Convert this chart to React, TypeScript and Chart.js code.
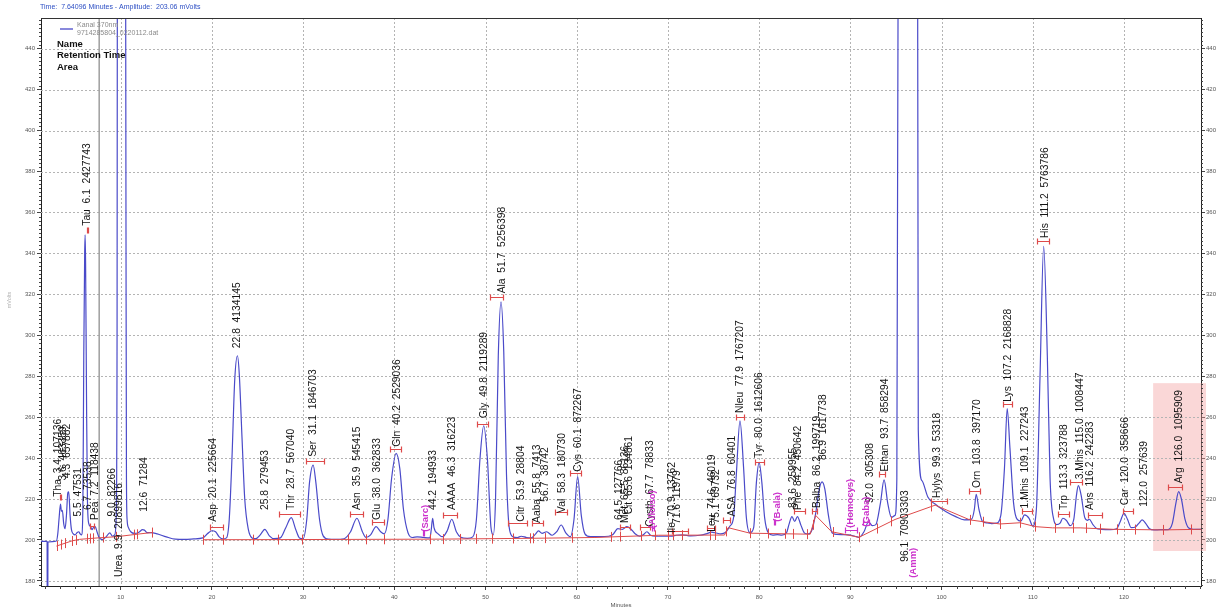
import React, { useEffect, useRef } from "react";
import { Chart, registerables } from "chart.js";

Chart.register(...registerables);

const FONT = '"Liberation Sans", Arial, Helvetica, sans-serif';

// Axis ranges: retention time in minutes, detector signal in mV
const timeRange: [number, number] = [1.26, 128.45];
const mvRange: [number, number] = [177.5, 455];
const xTickValues = [10, 20, 30, 40, 50, 60, 70, 80, 90, 100, 110, 120];
const yTickValues = [180, 200, 220, 240, 260, 280, 300, 320, 340, 360, 380, 400, 420, 440];
const cursorTime = 7.64;
const headerText = "Time:  7.64096 Minutes - Amplitude:  203.06 mVolts";
const channelName = "Kanal 370nm";
const fileName = "9714285804_0220112.dat";
const legendLines = ["Name", "Retention Time", "Area"];

// Highlighted window (minutes, mV)
const shadeTimes: [number, number] = [123.2, 129.0];
const shadeLevels: [number, number] = [194.6, 276.6];

// Detector trace [minutes, mV]
const trace: [number, number][] = [
  [1.26, 199.3], [1.9, 199.3], [1.93, 199], [1.95, 150], [2.0, 150], [2.02, 199], [2.5, 199.2], [2.95, 199.5],
  [3.1, 203], [3.25, 211], [3.4, 217.5], [3.5, 214], [3.6, 214.5], [3.75, 208], [3.9, 205.5], [4.05, 212],
  [4.2, 223], [4.3, 223.5], [4.45, 212], [4.6, 205], [4.8, 203], [5.0, 202.5], [5.2, 203.5], [5.4, 204],
  [5.55, 203], [5.7, 202.5], [5.85, 215], [5.95, 290], [6.05, 340], [6.1, 349], [6.15, 335], [6.25, 270],
  [6.35, 220], [6.5, 208], [6.7, 206.5], [6.85, 205], [7.0, 206], [7.2, 206.5], [7.4, 204], [7.6, 201.5],
  [7.8, 200.5], [8.0, 200.2], [8.4, 201.5], [8.8, 203.5], [9.1, 201.8], [9.35, 202.5], [9.5, 210], [9.6, 300],
  [9.65, 600], [9.9, 2000], [10.5, 600], [10.58, 350], [10.63, 230], [10.7, 210], [10.85, 206], [11.1, 204],
  [11.5, 203.2], [12.0, 203.8], [12.4, 205], [12.6, 204.8], [12.9, 203.6], [13.3, 203.6], [14.0, 203], [15.0, 201.5],
  [16.0, 200.4], [17.0, 200.3], [18.0, 200.5], [19.0, 201], [19.5, 203], [20.0, 204.5], [20.4, 204], [20.8, 201.5],
  [21.2, 200.5], [21.6, 201], [21.9, 210], [22.2, 240], [22.5, 278], [22.8, 290], [23.0, 281], [23.3, 250],
  [23.6, 220], [24.0, 205], [24.4, 201], [24.8, 200.6], [25.3, 202.5], [25.8, 205.2], [26.3, 202], [26.8, 200.6],
  [27.5, 201], [28.1, 206], [28.7, 210.9], [29.2, 205], [29.6, 201], [30.0, 200.6], [30.4, 210], [30.7, 228],
  [31.1, 236.6], [31.4, 228], [31.8, 210], [32.2, 202], [32.8, 200.4], [33.5, 200.3], [34.5, 200.6], [35.2, 204],
  [35.9, 210.6], [36.5, 204], [36.9, 201.2], [37.4, 202.5], [38.0, 206.5], [38.5, 204], [38.9, 203], [39.3, 210],
  [39.7, 230], [40.2, 242.3], [40.6, 235], [41.0, 215], [41.5, 203.5], [42.0, 201.2], [42.5, 201.5], [43.2, 201.2],
  [43.9, 201], [44.05, 205], [44.2, 210.6], [44.35, 206], [44.8, 203], [45.3, 201.6], [45.8, 204.5], [46.3, 210.1],
  [46.8, 204], [47.3, 201.3], [48.0, 200.8], [48.6, 201.5], [49.0, 210], [49.4, 240], [49.8, 255.8], [50.2, 240],
  [50.6, 206], [50.85, 202.5], [51.1, 220], [51.4, 290], [51.7, 316.3], [52.0, 292], [52.3, 232], [52.6, 206],
  [53.0, 201.6], [53.5, 201.2], [53.9, 201.8], [54.5, 201.2], [55.0, 201], [55.5, 203], [55.8, 204.4], [56.2, 203.2],
  [56.7, 204], [57.3, 202.3], [57.8, 204], [58.3, 207.3], [58.8, 203.5], [59.3, 201.6], [59.7, 210], [60.1, 230.9],
  [60.5, 212], [60.9, 203], [61.5, 201.6], [62.5, 201.6], [63.5, 201.8], [64.0, 202.8], [64.5, 205.5], [65.0, 205.2],
  [65.5, 206.5], [65.9, 205.5], [66.4, 203], [66.9, 201.8], [67.3, 202.5], [67.7, 204], [68.1, 202.3], [68.6, 201.8],
  [69.5, 201.8], [70.5, 201.9], [70.9, 202.3], [71.6, 202.5], [72.5, 202], [73.5, 202.3], [74.2, 203], [74.8, 203.8],
  [75.2, 203.5], [75.8, 203], [76.3, 203.6], [76.8, 206.8], [77.2, 211], [77.5, 232], [77.9, 258.2], [78.3, 235],
  [78.6, 211], [79.0, 203.5], [79.4, 206], [79.7, 228], [80.0, 237.9], [80.3, 228], [80.6, 211], [81.0, 203.5],
  [81.5, 202.4], [82.0, 202.6], [82.5, 202.4], [83.0, 203.5], [83.3, 208], [83.6, 211.4], [83.9, 209], [84.2, 211.4],
  [84.6, 207], [85.0, 203.3], [85.4, 203], [85.8, 205], [86.2, 213], [86.6, 225], [86.9, 228.4], [87.2, 225],
  [87.6, 212], [88.0, 203.5], [88.5, 202.7], [89.0, 202.6], [89.8, 202.5], [90.5, 201.8], [90.95, 201.3], [91.5, 204],
  [92.0, 208.9], [92.4, 207], [92.8, 207.5], [93.3, 218], [93.7, 229.3], [94.1, 218], [94.5, 211], [94.9, 212],
  [95.1, 230], [95.3, 600], [96.1, 3000], [97.35, 600], [97.45, 254], [97.85, 229], [98.5, 221], [99.0, 218.5],
  [99.4, 217.2], [99.8, 215.8], [100.5, 213.8], [101.5, 211.5], [102.5, 209.8], [103.3, 210.2], [103.6, 215], [103.8, 222.3],
  [104.1, 215], [104.5, 209], [105.0, 208.3], [105.5, 208], [106.0, 208.2], [106.5, 212], [106.9, 235], [107.2, 264.2],
  [107.5, 245], [107.9, 218], [108.3, 210], [108.7, 209.2], [109.1, 212.2], [109.6, 210.5], [110.0, 206.8], [110.4, 215],
  [110.8, 280], [111.2, 343.4], [111.6, 290], [111.9, 230], [112.3, 210], [112.6, 207.5], [113.0, 208.2], [113.3, 210.6],
  [113.7, 209.5], [114.1, 207], [114.5, 210], [114.8, 222], [115.0, 226.5], [115.3, 222], [115.7, 211], [116.0, 209.6],
  [116.2, 210.1], [116.6, 207.5], [117.0, 205.6], [117.5, 205.2], [118.5, 205], [119.2, 205.5], [119.6, 209], [120.0, 213],
  [120.4, 210], [120.8, 206], [121.3, 206.5], [121.7, 208.5], [122.0, 209.8], [122.4, 208], [122.8, 205.5], [123.3, 204.9],
  [124.0, 205], [124.8, 205], [125.3, 208], [125.7, 218], [126.0, 223.6], [126.3, 220], [126.7, 210], [127.1, 205.8],
  [127.6, 205.2], [128.45, 205.2],
];

// Integration baseline [minutes, mV]; null marks a break
const baseline: [number, number | null][] = [
  [2.95, 197], [4.7, 199.6], [5.5, 200.3], [7.5, 201], [9.6, 201.6], [11.8, 202.8], [13.4, 203.6],
  [16.0, null],
  [19.06, 200.1], [30, 200.2], [45, 200.4], [55, 200.8], [62, 201.2], [69, 202.3], [76.2, 202.4], [76.6, 206],
  [79.0, 203.3], [85.6, 202.8], [86.2, 212], [87.95, 204], [90.95, 201.3], [94.9, 210], [99.3, 217],
  [103.1, 209.8], [106.4, 207.8], [108.6, 208.4], [110.3, 206.5], [112.2, 205.9], [115.2, 205.9],
  [118.8, 205.2], [124.3, 204.9], [128.45, 205.2],
];

// Peak start / end marks on the baseline (minutes)
const boundaryTimes = [
  2.98, 3.45, 3.93, 4.63, 5.1, 6.34, 6.63, 6.93, 8.09, 9.45, 11.46, 11.75, 13.4,
  19.06, 21.2, 24.5, 27.3, 29.9, 34.96, 36.9, 38.9, 43.9, 45.3, 47.2, 49.0, 50.7, 53.0, 54.9, 55.2,
  56.5, 59.5, 63.8, 64.7, 67.1, 68.6, 70.0, 70.6, 71.5, 74.6, 75.2, 76.4, 79.0, 81.0, 82.8, 83.7,
  85.2, 85.9, 88.1, 90.9, 92.9, 94.5, 98.9, 103.1, 104.6, 106.4, 108.6, 110.3, 112.4, 114.4, 115.8,
  117.4, 119.2, 121.2, 124.3, 127.4,
];

// Expected-window brackets: [from, to, level mV]
const windowBrackets: [number, number, number][] = [
  [3.38, 3.45, 221], [6.6, 7.1, 207], [6.28, 6.36, 351.5], [19.8, 21.2, 206.3], [27.4, 29.7, 212.7],
  [30.3, 32.3, 238.5], [35.1, 36.6, 212.7], [37.6, 38.9, 208.8], [39.5, 40.7, 244.4], [45.3, 46.9, 212.2],
  [49.1, 50.3, 256.6], [50.5, 51.9, 318.5], [52.5, 54.6, 208.3], [55.1, 56.3, 208.1], [57.6, 58.9, 213.8],
  [59.3, 60.5, 232.5], [64.7, 65.8, 206.5], [66.9, 68.0, 206.5], [70.4, 72.2, 204.5], [74.3, 75.2, 205.7],
  [76.0, 76.8, 209.8], [77.5, 78.3, 260.1], [79.5, 80.5, 237.9], [83.8, 85.0, 214.3], [85.8, 86.3, 214.3],
  [93.1, 93.8, 232.2], [98.9, 100.6, 219], [103.0, 104.2, 224], [106.7, 107.7, 266.3], [108.8, 109.9, 214.3],
  [110.5, 111.8, 345.9], [112.8, 114.0, 212.7], [114.1, 115.4, 228.3], [116.1, 117.6, 212.2],
  [119.9, 121.0, 214.3], [124.8, 126.4, 225.9],
];
const missingBrackets: [number, number, number][] = [
  [43.1, 43.2, 203.3], [68.2, 68.5, 206], [81.65, 81.75, 208.9], [89.4, 90.7, 204.9], [91.4, 92.0, 208.9],
];

// Peak annotations: name, retention time, area
const peakLabels = [
  "Tha  3.4  107136", "3.6  463359", "4.3  657882", "5.5  47531", "6.7  73538", "Pea  7.2  118438",
  "Tau  6.1  2427743", "9.0  82266", "Urea  9.9  20899816", "12.6  71284", "Asp  20.1  225664",
  "22.8  4134145", "25.8  279453", "Thr  28.7  567040", "Ser  31.1  1846703", "Asn  35.9  545415",
  "Glu  38.0  362833", "Gln  40.2  2529036", "44.2  194933", "AAAA  46.3  316223", "Gly  49.8  2119289",
  "Ala  51.7  5256398", "Citr  53.9  28804", "Aaba  55.8  7413", "56.7  38742", "Val  58.3  180730",
  "Cys  60.1  872267", "64.5  127766", "Met  65.5  86136", "Cit  65.6  134861", "Cysth  67.7  78833",
  "Ile  70.9  13762", "71.6  11979", "Leu  74.6  46019", "75.1  69732", "ASA  76.8  60401",
  "Nleu  77.9  1767207", "Tyr  80.0  1612606", "83.6  259955", "Phe  84.2  450642", "Balba  86.2  199719",
  "86.9  1617738", "92.0  305308", "Ethan  93.7  858294", "96.1  70903303", "Hylys  99.3  53318",
  "Orn  103.8  397170", "Lys  107.2  2168828", "1.Mhis  109.1  227243", "His  111.2  5763786",
  "Trp  113.3  323788", "3.Mhis  115.0  1008447", "Ans  116.2  242283", "Car  120.0  358666",
  "122.0  257639", "Arg  126.0  1095909",
];
const peakLabelTimes = [
  3.16, 3.64, 4.17, 5.35, 6.45, 7.18, 6.35, 9.08, 9.81, 12.55, 20.15,
  22.75, 25.8, 28.7, 31.1, 35.9, 38.1, 40.3, 44.3, 46.3, 49.85,
  51.8, 53.9, 55.7, 56.5, 58.35, 60.15, 64.6, 65.3, 65.75, 68.0,
  70.5, 71.0, 74.8, 75.25, 77.0, 77.9, 80.0, 83.7, 84.3, 86.4,
  87.05, 92.2, 93.8, 96.0, 99.5, 103.9, 107.3, 109.2, 111.35,
  113.4, 115.2, 116.3, 120.1, 122.2, 126.1,
];
const peakLabelLevels = [
  221.1, 229, 230.2, 211.4, 214.6, 209.8, 353.5, 211.4, 181.9, 213.8, 208.9,
  293.7, 214.6, 214.6, 240.6, 214.6, 209.8, 245.5, 214.6, 214.6, 259.5,
  320.5, 208.9, 208.3, 218.7, 213.2, 233.3, 209.8, 208.3, 212.5, 206.5,
  203.4, 207.8, 204, 208, 211.4, 262, 240, 215.6, 214.6, 215.6,
  239, 218, 233.5, 189.3, 220.5, 225.4, 267.5, 215.4, 347.5,
  214.6, 229.6, 214.6, 217, 216.2, 227.7,
];

// Components expected but not found
const missingLabels = ["(Sarc)", "(Alloiso)", "(B-ala)", "(Homocys)", "(Gaba)", "(Amm)"];
const missingTimes = [43.45, 68.25, 82.0, 90.0, 91.8, 96.9];
const missingLevels = [204, 205.7, 208.9, 205.9, 206.5, 181.5];

const BLUE = "#4a4ac9";
const RED = "#de4a4a";
const MAGENTA = "#cc33cc";

function baselineAt(t: number): number | null {
  for (let i = 0; i < baseline.length - 1; i++) {
    const [t0, v0] = baseline[i];
    const [t1, v1] = baseline[i + 1];
    if (v0 == null || v1 == null) continue;
    if (t >= t0 && t <= t1) return v0 + ((v1 - v0) * (t - t0)) / (t1 - t0);
  }
  return null;
}

const decorations = {
  id: "decorations",
  beforeDatasetsDraw(chart: any) {
    const { ctx, chartArea: a, scales } = chart;
    const xs = scales.x;
    const ys = scales.y;
    ctx.save();
    // highlighted window
    const sx0 = xs.getPixelForValue(shadeTimes[0]);
    const sx1 = xs.getPixelForValue(shadeTimes[1]);
    const sy0 = ys.getPixelForValue(shadeLevels[1]);
    const sy1 = ys.getPixelForValue(shadeLevels[0]);
    ctx.fillStyle = "rgba(242, 160, 160, 0.42)";
    ctx.fillRect(sx0, sy0, sx1 - sx0, sy1 - sy0);
    // dotted grid
    ctx.strokeStyle = "#b4b4b4";
    ctx.lineWidth = 1;
    ctx.setLineDash([2, 2]);
    ctx.beginPath();
    for (const v of yTickValues) {
      const py = Math.round(ys.getPixelForValue(v)) + 0.5;
      ctx.moveTo(a.left, py);
      ctx.lineTo(a.right, py);
    }
    for (const t of xTickValues) {
      const px = Math.round(xs.getPixelForValue(t)) + 0.5;
      ctx.moveTo(px, a.top);
      ctx.lineTo(px, a.bottom);
    }
    ctx.stroke();
    ctx.setLineDash([]);
    // time cursor
    const cx = xs.getPixelForValue(cursorTime);
    ctx.strokeStyle = "#9e9e9e";
    ctx.lineWidth = 1.5;
    ctx.beginPath();
    ctx.moveTo(cx, a.top);
    ctx.lineTo(cx, a.bottom);
    ctx.stroke();
    ctx.restore();
  },
  afterDatasetsDraw(chart: any) {
    const { ctx, scales } = chart;
    const xs = scales.x;
    const ys = scales.y;
    ctx.save();
    // peak boundary marks
    ctx.strokeStyle = RED;
    ctx.lineWidth = 1;
    ctx.beginPath();
    for (const t of boundaryTimes) {
      const v = baselineAt(t);
      if (v == null) continue;
      const px = Math.round(xs.getPixelForValue(t)) + 0.5;
      const py = ys.getPixelForValue(v);
      ctx.moveTo(px, py - 5);
      ctx.lineTo(px, py + 5);
    }
    ctx.stroke();
    // window brackets
    const drawBrackets = (list: [number, number, number][], color: string) => {
      ctx.strokeStyle = color;
      ctx.lineWidth = 1.2;
      ctx.beginPath();
      for (const [t0, t1, v] of list) {
        const x0 = Math.round(xs.getPixelForValue(t0)) + 0.5;
        const x1 = Math.round(xs.getPixelForValue(t1)) + 0.5;
        const py = Math.round(ys.getPixelForValue(v)) + 0.5;
        ctx.moveTo(x0, py);
        ctx.lineTo(x1, py);
        ctx.moveTo(x0, py - 3);
        ctx.lineTo(x0, py + 3);
        ctx.moveTo(x1, py - 3);
        ctx.lineTo(x1, py + 3);
      }
      ctx.stroke();
    };
    drawBrackets(windowBrackets, RED);
    drawBrackets(missingBrackets, MAGENTA);
    // vertical annotations
    const drawLabels = (texts: string[], times: number[], levels: number[], color: string, font: string) => {
      ctx.fillStyle = color;
      ctx.font = font;
      ctx.textAlign = "left";
      ctx.textBaseline = "middle";
      texts.forEach((txt, i) => {
        const px = xs.getPixelForValue(times[i]);
        const py = ys.getPixelForValue(levels[i]);
        ctx.save();
        ctx.translate(px, py);
        ctx.rotate(-Math.PI / 2);
        ctx.fillText(txt, 0, 0);
        ctx.restore();
      });
    };
    drawLabels(peakLabels, peakLabelTimes, peakLabelLevels, "#141414", `10.3px ${FONT}`);
    drawLabels(missingLabels, missingTimes, missingLevels, MAGENTA, `bold 9.5px ${FONT}`);
    ctx.restore();
  },
  afterDraw(chart: any) {
    const { ctx, chartArea: a, scales } = chart;
    const xs = scales.x;
    const ys = scales.y;
    ctx.save();
    // frame top
    ctx.strokeStyle = "#333";
    ctx.lineWidth = 1;
    ctx.beginPath();
    ctx.moveTo(a.left, a.top + 0.5);
    ctx.lineTo(a.right, a.top + 0.5);
    ctx.stroke();
    // minor ticks
    ctx.strokeStyle = "#444";
    ctx.beginPath();
    for (let v = 178; v <= 454; v += 2) {
      if (v % 20 === 0) continue;
      const py = Math.round(ys.getPixelForValue(v)) + 0.5;
      ctx.moveTo(a.left - 2, py);
      ctx.lineTo(a.left, py);
      ctx.moveTo(a.right, py);
      ctx.lineTo(a.right + 2, py);
    }
    for (let k = 1; k <= 77; k++) {
      if (k % 6 === 0) continue;
      const t = (k * 10) / 6;
      if (t < timeRange[0] || t > timeRange[1]) continue;
      const px = Math.round(xs.getPixelForValue(t)) + 0.5;
      ctx.moveTo(px, a.bottom);
      ctx.lineTo(px, a.bottom + 3);
    }
    ctx.stroke();
    // header line
    ctx.fillStyle = "#2d4fc4";
    ctx.font = `7px ${FONT}`;
    ctx.textAlign = "left";
    ctx.textBaseline = "middle";
    ctx.fillText(headerText, 40, 7);
    // legend
    ctx.strokeStyle = BLUE;
    ctx.lineWidth = 1.3;
    ctx.beginPath();
    ctx.moveTo(60, 29);
    ctx.lineTo(73, 29);
    ctx.stroke();
    ctx.fillStyle = "#8a8a8a";
    ctx.font = `7px ${FONT}`;
    ctx.fillText(channelName, 77, 25);
    ctx.fillText(fileName, 77, 33);
    ctx.fillStyle = "#111";
    ctx.font = `bold 9.5px ${FONT}`;
    legendLines.forEach((s, i) => ctx.fillText(s, 57, 44 + i * 11.7));
    // y title
    ctx.save();
    ctx.translate(9, 300);
    ctx.rotate(-Math.PI / 2);
    ctx.fillStyle = "#b0b0b0";
    ctx.font = `5.5px ${FONT}`;
    ctx.textAlign = "center";
    ctx.fillText("mVolts", 0, 0);
    ctx.restore();
    ctx.restore();
  },
};

export default function App() {
  const ref = useRef<HTMLCanvasElement>(null);

  useEffect(() => {
    const canvas = ref.current;
    if (!canvas) return;
    const tickFont = { family: FONT, size: 6 };
    const chart = new Chart(canvas, {
      type: "line",
      data: {
        datasets: [
          {
            label: "Baseline",
            data: baseline.map(([x, y]) => ({ x, y })) as any,
            borderColor: RED,
            borderWidth: 1,
            pointRadius: 0,
            tension: 0,
            spanGaps: false,
          },
          {
            label: channelName,
            data: trace.map(([x, y]) => ({ x, y })),
            borderColor: BLUE,
            borderWidth: 1.2,
            pointRadius: 0,
            cubicInterpolationMode: "monotone",
          },
        ],
      },
      options: {
        responsive: false,
        animation: false,
        events: [],
        layout: { padding: { top: 18, left: 0, right: 0, bottom: 0 } },
        plugins: { legend: { display: false }, tooltip: { enabled: false }, title: { display: false } },
        scales: {
          x: {
            type: "linear",
            min: timeRange[0],
            max: timeRange[1],
            afterBuildTicks: (s: any) => {
              s.ticks = xTickValues.map((v) => ({ value: v }));
            },
            afterFit: (s: any) => {
              s.height = 23;
            },
            grid: { drawOnChartArea: false, drawTicks: true, tickLength: 4, color: "#444" },
            border: { display: true, color: "#222", width: 1 },
            ticks: { font: tickFont, color: "#555", padding: 4, maxRotation: 0, autoSkip: false },
            title: { display: true, text: "Minutes", font: { family: FONT, size: 6 }, color: "#555", padding: 0 },
          },
          y: {
            type: "linear",
            position: "left",
            min: mvRange[0],
            max: mvRange[1],
            afterBuildTicks: (s: any) => {
              s.ticks = yTickValues.map((v) => ({ value: v }));
            },
            afterFit: (s: any) => {
              s.width = 41;
            },
            grid: { drawOnChartArea: false, drawTicks: true, tickLength: 4, color: "#444" },
            border: { display: true, color: "#222", width: 1 },
            ticks: { font: tickFont, color: "#555", padding: 2, autoSkip: false },
          },
          y2: {
            type: "linear",
            position: "right",
            min: mvRange[0],
            max: mvRange[1],
            afterBuildTicks: (s: any) => {
              s.ticks = yTickValues.map((v) => ({ value: v }));
            },
            afterFit: (s: any) => {
              s.width = 18;
            },
            grid: { drawOnChartArea: false, drawTicks: true, tickLength: 4, color: "#444" },
            border: { display: true, color: "#222", width: 1 },
            ticks: { font: tickFont, color: "#555", padding: 1, autoSkip: false },
          },
        },
      },
      plugins: [decorations],
    });
    return () => chart.destroy();
  }, []);

  return (
    <div style={{ position: "fixed", left: 0, top: 0, width: 1219, height: 609, background: "#fff" }}>
      <canvas ref={ref} width={1219} height={609} style={{ display: "block", width: 1219, height: 609 }} />
    </div>
  );
}
